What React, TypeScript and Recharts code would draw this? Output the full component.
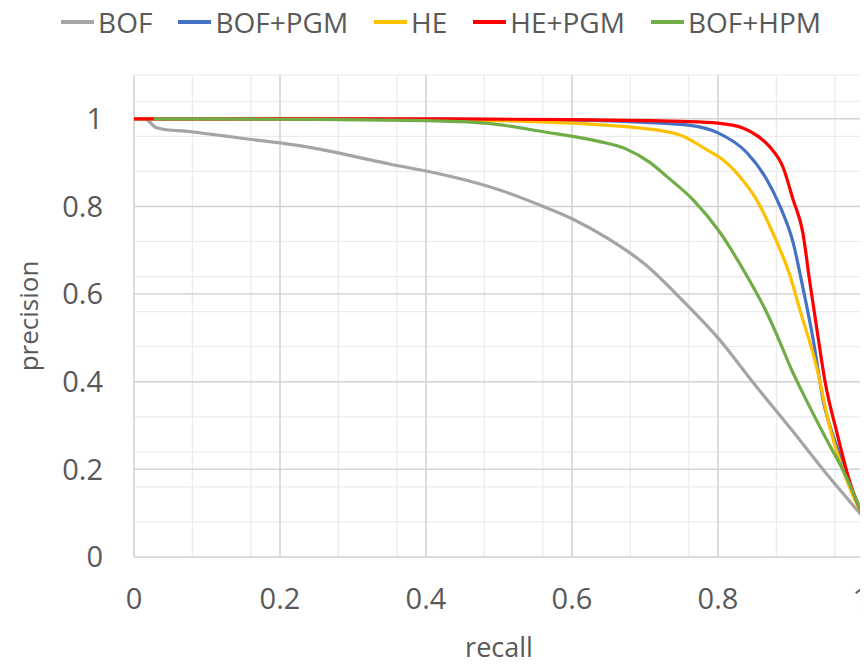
import React from "react";
import {
  LineChart,
  Line,
  XAxis,
  YAxis,
  CartesianGrid,
  Legend,
  Label,
} from "recharts";

type Pt = { recall: number; precision: number };

const toPts = (arr: number[][]): Pt[] =>
  arr.map(([recall, precision]) => ({ recall, precision }));

// values
const bof = toPts([
  [0, 1], [0.015, 1], [0.03, 0.98], [0.045, 0.975], [0.07, 0.972],
  [0.1, 0.966], [0.15, 0.955], [0.2, 0.945], [0.25, 0.932], [0.3, 0.915],
  [0.35, 0.897], [0.4, 0.881], [0.45, 0.862], [0.5, 0.838], [0.55, 0.807],
  [0.6, 0.772], [0.65, 0.726], [0.7, 0.668], [0.75, 0.588], [0.8, 0.5],
  [0.85, 0.394], [0.9, 0.292], [0.95, 0.187], [1, 0.089],
]);

const bofPgm = toPts([
  [0, 1], [0.2, 1], [0.4, 0.999], [0.6, 0.997], [0.7, 0.992],
  [0.762, 0.985], [0.8, 0.968], [0.84, 0.922], [0.867, 0.861], [0.885, 0.8],
  [0.903, 0.717], [0.916, 0.617], [0.93, 0.5], [0.944, 0.358],
  [0.963, 0.251], [0.981, 0.164], [1, 0.089],
]);

const he = toPts([
  [0, 1], [0.2, 1], [0.4, 0.998], [0.5, 0.996], [0.6, 0.99],
  [0.65, 0.985], [0.693, 0.979], [0.748, 0.963], [0.785, 0.929],
  [0.803, 0.911], [0.83, 0.868], [0.853, 0.815], [0.875, 0.74],
  [0.899, 0.64], [0.912, 0.565], [0.935, 0.434], [0.953, 0.297],
  [0.98, 0.16], [1, 0.089],
]);

const hePgm = toPts([
  [0, 1], [0.2, 1], [0.4, 1], [0.6, 0.998], [0.7, 0.996], [0.75, 0.994],
  [0.8, 0.99], [0.834, 0.979], [0.855, 0.96], [0.871, 0.936],
  [0.889, 0.89], [0.903, 0.815], [0.916, 0.742], [0.926, 0.625],
  [0.935, 0.525], [0.947, 0.397], [0.963, 0.283], [0.981, 0.169], [1, 0.089],
]);

const bofHpm = toPts([
  [0.027, 1], [0.2, 0.999], [0.4, 0.996], [0.482, 0.99], [0.563, 0.97],
  [0.638, 0.948], [0.673, 0.932], [0.707, 0.9], [0.73, 0.868],
  [0.766, 0.815], [0.803, 0.74], [0.84, 0.64], [0.867, 0.557],
  [0.885, 0.49], [0.899, 0.434], [0.921, 0.358], [0.949, 0.267],
  [0.971, 0.199], [1, 0.089],
]);

const xTicks = [0, 0.2, 0.4, 0.6, 0.8, 1];
const yTicks = [0, 0.2, 0.4, 0.6, 0.8, 1];

const series = [
  { name: "BOF", data: bof, color: "#A5A5A5" },
  { name: "BOF+PGM", data: bofPgm, color: "#4472C4" },
  { name: "HE", data: he, color: "#FFC000" },
  { name: "HE+PGM", data: hePgm, color: "#FF0000" },
  { name: "BOF+HPM", data: bofHpm, color: "#70AD47" },
];

// minor grid every 0.04
const steps = (n: number) => Array.from({ length: n }, (_, i) => +(i * 0.04).toFixed(2));
const minorX = steps(26);
const minorY = [...steps(28), 1.1];

const textColor = "#595959";
const font = "'Open Sans', sans-serif";
const tickFont = { fontSize: 29, fill: textColor, fontFamily: font };

const LegendRow = () => (
  <div
    style={{
      display: "flex",
      justifyContent: "center",
      alignItems: "center",
      height: 28,
      paddingLeft: 6,
      fontFamily: font,
      fontSize: 28,
      color: textColor,
    }}
  >
    {series.map((s, i) => (
      <div
        key={s.name}
        style={{
          display: "flex",
          alignItems: "center",
          marginRight: i < series.length - 1 ? 26 : 0,
        }}
      >
        <div style={{ width: 33, height: 4, background: s.color, marginRight: 4 }} />
        <span>{s.name}</span>
      </div>
    ))}
  </div>
);

export default function App() {
  return (
    <LineChart
      width={860}
      height={658}
      margin={{ top: 67, right: 4, bottom: 0, left: 0 }}
    >
      <CartesianGrid
        stroke="#ebebeb"
        strokeWidth={1.2}
        horizontalValues={minorY}
        verticalValues={minorX}
      />
      <CartesianGrid
        stroke="#d4d4d4"
        strokeWidth={1.5}
        horizontalValues={yTicks}
        verticalValues={xTicks}
      />
      <XAxis
        type="number"
        dataKey="recall"
        domain={[0, 1]}
        ticks={xTicks}
        axisLine={false}
        tickLine={false}
        tickSize={0}
        tickMargin={31}
        tick={tickFont}
        height={109}
      >
        <Label
          value="recall"
          position="insideBottom"
          offset={9}
          style={{ fontSize: 27, fill: textColor, fontFamily: font }}
        />
      </XAxis>
      <YAxis
        type="number"
        dataKey="precision"
        domain={[0, 1.1]}
        ticks={yTicks}
        axisLine={false}
        tickLine={false}
        tickSize={0}
        tickMargin={31}
        tick={tickFont}
        width={126}
        allowDataOverflow
      >
        <Label
          value="precision"
          angle={-90}
          position="center"
          dx={-42}
          style={{ fontSize: 26, fill: textColor, fontFamily: font }}
        />
      </YAxis>
      <Legend
        verticalAlign="middle"
        wrapperStyle={{ top: 0, left: 0, width: 860 }}
        content={() => <LegendRow />}
      />
      {series.map((s) => (
        <Line
          key={s.name}
          data={s.data}
          dataKey="precision"
          name={s.name}
          type="monotone"
          stroke={s.color}
          strokeWidth={3.2}
          dot={false}
          activeDot={false}
          isAnimationActive={false}
        />
      ))}
    </LineChart>
  );
}
